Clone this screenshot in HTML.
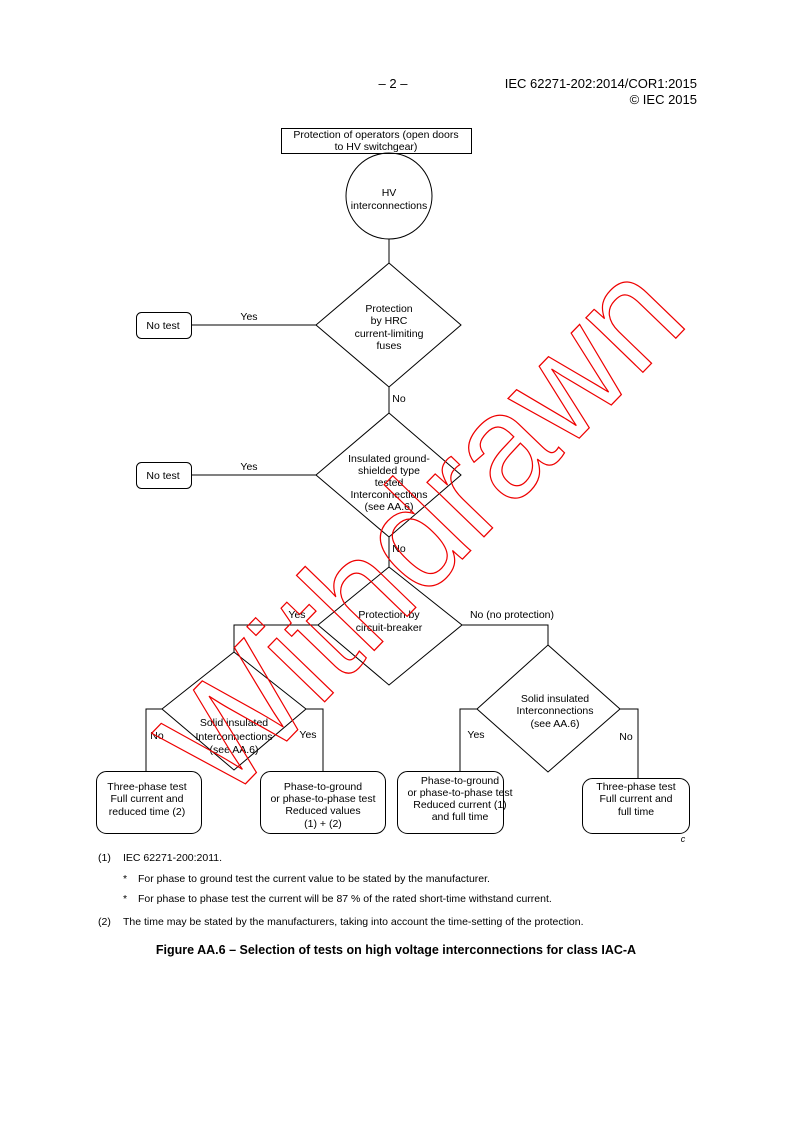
<!DOCTYPE html>
<html><head><meta charset="utf-8"><style>
html,body{margin:0;padding:0;background:#fff;}
svg{display:block;}
text{font-family:"Liberation Sans",Arial,sans-serif;fill:#000;}
</style></head><body>
<svg width="793" height="1122" viewBox="0 0 793 1122" xmlns="http://www.w3.org/2000/svg">
<g font-size="13">
<text x="393" y="88" text-anchor="middle">– 2 –</text>
<text x="697" y="88" text-anchor="end">IEC 62271-202:2014/COR1:2015</text>
<text x="697" y="104" text-anchor="end">© IEC 2015</text>
</g>
<g stroke="#000" stroke-width="1" fill="none">
<rect x="281.5" y="128.5" width="190" height="25"/>
<circle cx="389" cy="196" r="43"/>
<line x1="389" y1="239" x2="389" y2="263"/>
<polygon points="389,263 461,325 389,387 316,325"/>
<rect x="136.5" y="312.5" width="55" height="26" rx="5"/>
<line x1="191" y1="325" x2="316" y2="325"/>
<line x1="389" y1="387" x2="389" y2="413"/>
<polygon points="389,413 461,475 389,537 316,475"/>
<rect x="136.5" y="462.5" width="55" height="26" rx="5"/>
<line x1="191" y1="475" x2="316" y2="475"/>
<line x1="389" y1="537" x2="389" y2="567"/>
<polygon points="389,567 462,625 389,685 318,625"/>
<polyline points="318,625 234,625 234,652"/>
<polygon points="234,652 306,709 234,770 162,709"/>
<polyline points="162,709 146,709 146,771"/>
<polyline points="306,709 323,709 323,771"/>
<polyline points="462,625 548,625 548,645"/>
<polygon points="548,645 620,709 548,772 477,709"/>
<polyline points="477,709 460,709 460,771"/>
<polyline points="620,709 638,709 638,778"/>
<rect x="96.5" y="771.5" width="105" height="62" rx="10"/>
<rect x="260.5" y="771.5" width="125" height="62" rx="10"/>
<rect x="397.5" y="771.5" width="106" height="62" rx="10"/>
<rect x="582.5" y="778.5" width="107" height="55" rx="10"/>
</g>
<g font-size="10.5" text-anchor="middle">
<text x="376" y="138">Protection of operators (open doors</text>
<text x="376" y="150">to HV switchgear)</text>
<text x="389" y="196">HV</text>
<text x="389" y="209">interconnections</text>
<text x="389" y="312">Protection</text>
<text x="389" y="324">by HRC</text>
<text x="389" y="337">current-limiting</text>
<text x="389" y="349">fuses</text>
<text x="163" y="329">No test</text>
<text x="249" y="320">Yes</text>
<text x="399" y="402">No</text>
<text x="389" y="462">Insulated ground-</text>
<text x="389" y="474">shielded type</text>
<text x="389" y="486">tested</text>
<text x="389" y="498">Interconnections</text>
<text x="389" y="510">(see AA.6)</text>
<text x="163" y="479">No test</text>
<text x="249" y="470">Yes</text>
<text x="399" y="552">No</text>
<text x="389" y="618">Protection by</text>
<text x="389" y="631">circuit-breaker</text>
<text x="297" y="618">Yes</text>
<text x="512" y="618">No (no protection)</text>
<text x="234" y="726">Solid insulated</text>
<text x="234" y="740">Interconnections</text>
<text x="234" y="753">(see AA.6)</text>
<text x="157" y="739">No</text>
<text x="308" y="738">Yes</text>
<text x="555" y="702">Solid insulated</text>
<text x="555" y="714">Interconnections</text>
<text x="555" y="727">(see AA.6)</text>
<text x="476" y="738">Yes</text>
<text x="626" y="740">No</text>
<text x="147" y="790">Three-phase test</text>
<text x="147" y="802">Full current and</text>
<text x="147" y="815">reduced time (2)</text>
<text x="323" y="790">Phase-to-ground</text>
<text x="323" y="802">or phase-to-phase test</text>
<text x="323" y="814">Reduced values</text>
<text x="323" y="827">(1) + (2)</text>
<text x="460" y="784">Phase-to-ground</text>
<text x="460" y="796">or phase-to-phase test</text>
<text x="460" y="808">Reduced current (1)</text>
<text x="460" y="820">and full time</text>
<text x="636" y="790">Three-phase test</text>
<text x="636" y="802">Full current and</text>
<text x="636" y="815">full time</text>
<text x="683" y="842" font-style="italic" font-size="9">c</text>
</g>
<g font-size="10.5">
<text x="98" y="861">(1)</text><text x="123" y="861">IEC 62271-200:2011.</text>
<text x="123" y="882">*</text><text x="138" y="882">For phase to ground test the current value to be stated by the manufacturer.</text>
<text x="123" y="902">*</text><text x="138" y="902">For phase to phase test the current will be 87 % of the rated short-time withstand current.</text>
<text x="98" y="925">(2)</text><text x="123" y="925">The time may be stated by the manufacturers, taking into account the time-setting of the protection.</text>
</g>
<text x="396" y="954" text-anchor="middle" font-size="12.5" font-weight="bold">Figure AA.6 – Selection of tests on high voltage interconnections for class IAC-A</text>
<text x="0" y="0" transform="translate(225,805) rotate(-46) scale(1,1.05)" font-size="142" style="fill:none;stroke:#e00;stroke-width:1.2">Withdrawn</text>
</svg>
</body></html>
